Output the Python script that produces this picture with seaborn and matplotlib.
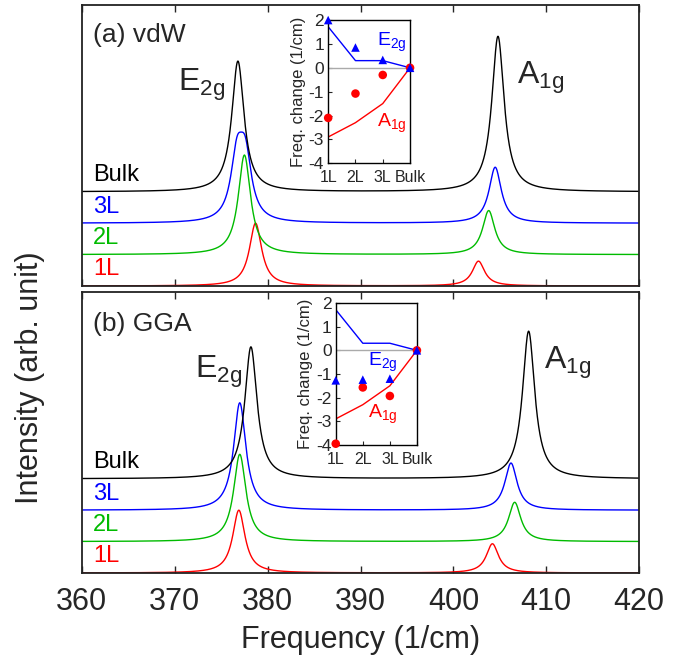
import numpy as np
import matplotlib
matplotlib.use("Agg")
import matplotlib.pyplot as plt
import pandas as pd
import seaborn as sns

# ---------------------------------------------------------------
# Raman peaks (position in 1/cm, height in offset units)
# ---------------------------------------------------------------
layers = ['1L', '2L', '3L', 'Bulk']
colors = ['#ff0000', '#00bb00', '#0000ff', '#000000']
offsets = [0, 1, 2, 3]
gamma = 0.8   # half width of the Lorentzians

# (a) vdW
vdw_e2g_pos = [[378.7], [377.5], [376.7, 377.6], [376.8]]
vdw_e2g_amp = [[2.0], [3.17], [1.91, 1.91], [4.16]]
vdw_a1g_pos = [402.7, 403.8, 404.5, 404.8]
vdw_a1g_amp = [0.79, 1.40, 1.78, 4.95]

# (b) GGA
gga_e2g_pos = [[376.9], [377.0], [377.0], [378.2]]
gga_e2g_amp = [[2.0], [2.78], [3.42], [4.2]]
gga_a1g_pos = [404.2, 406.6, 406.2, 408.1]
gga_a1g_amp = [0.93, 1.25, 1.5, 4.7]

# insets: frequency change vs. number of layers
inset_labels = ['1L', '2L', '3L', 'Bulk']
exp_e2g = [1.72, 0.3, 0.3, 0.0]
exp_a1g = [-2.9, -2.3, -1.5, 0.0]
vdw_e2g_shift = [2.0, 0.85, 0.33, 0.0]
vdw_a1g_shift = [-2.1, -1.08, -0.3, 0.0]
gga_e2g_shift = [-1.27, -1.24, -1.2, 0.0]
gga_a1g_shift = [-3.95, -1.57, -1.93, 0.0]

freq = np.linspace(360, 420, 3001)


def lorentz(x, x0, amp):
    return amp * gamma**2 / ((x - x0)**2 + gamma**2)


sns.set_style("ticks")
plt.rcParams['font.family'] = ['Liberation Sans', 'DejaVu Sans']
plt.rcParams['mathtext.default'] = 'regular'
plt.rcParams['axes.unicode_minus'] = False

fig = plt.figure(figsize=(6.88, 6.69), dpi=100)
ax_a = fig.add_axes([0.119, 0.5725, 0.81, 0.42])
ax_b = fig.add_axes([0.119, 0.1435, 0.81, 0.42])
in_a = fig.add_axes([0.477, 0.756, 0.119, 0.214])
in_b = fig.add_axes([0.488, 0.335, 0.118, 0.212])


def spectra(ax, e2g_pos, e2g_amp, a1g_pos, a1g_amp):
    for i in range(4):
        y = np.full_like(freq, offsets[i], dtype=float)
        for p, a in zip(e2g_pos[i], e2g_amp[i]):
            y += lorentz(freq, p, a)
        y += lorentz(freq, a1g_pos[i], a1g_amp[i])
        sns.lineplot(x=freq, y=y, ax=ax, color=colors[i], lw=1.0,
                     estimator=None, sort=False)
        ax.text(361.2, offsets[i] + 0.18, layers[i], color=colors[i],
                fontsize=17, ha='left', va='bottom')
    ax.set_xlim(360, 420)
    ax.set_ylim(0, 8.95)
    ax.set_xticks(np.arange(360, 421, 10))
    ax.set_yticks([])
    ax.tick_params(axis='x', direction='in', top=True, length=5, width=1,
                   labelsize=22, pad=10)
    for s in ax.spines.values():
        s.set_linewidth(1.3)
        s.set_color('#222222')


spectra(ax_a, vdw_e2g_pos, vdw_e2g_amp, vdw_a1g_pos, vdw_a1g_amp)
spectra(ax_b, gga_e2g_pos, gga_e2g_amp, gga_a1g_pos, gga_a1g_amp)
ax_a.tick_params(labelbottom=False)

ax_a.text(0.02, 0.935, '(a) vdW', transform=ax_a.transAxes, fontsize=19,
          va='top')
ax_b.text(0.02, 0.93, '(b) GGA', transform=ax_b.transAxes, fontsize=19,
          va='top')
ax_a.text(370.3, 6.2, 'E$_{2g}$', fontsize=23, va='baseline')
ax_a.text(406.8, 6.45, 'A$_{1g}$', fontsize=23, va='baseline')
ax_b.text(372.2, 6.2, 'E$_{2g}$', fontsize=23, va='baseline')
ax_b.text(409.8, 6.5, 'A$_{1g}$', fontsize=23, va='baseline')

ax_b.set_xlabel('Frequency (1/cm)', fontsize=22, labelpad=6)
fig.text(0.044, 0.435, 'Intensity (arb. unit)', rotation=90, fontsize=22,
         ha='center', va='center')


def inset(ax, e2g_shift, a1g_shift, e2g_txt, a1g_txt):
    xs = np.arange(4)
    ax.axhline(0, color='#aaaaaa', lw=1)
    sns.lineplot(x=xs, y=exp_e2g, ax=ax, color='#0000ff', lw=1)
    sns.lineplot(x=xs, y=exp_a1g, ax=ax, color='#ff0000', lw=1)
    sns.scatterplot(x=xs, y=a1g_shift, ax=ax, color='#ff0000', marker='o',
                    s=38, edgecolor='none', clip_on=False, zorder=5)
    sns.scatterplot(x=xs, y=e2g_shift, ax=ax, color='#0000ff', marker='^',
                    s=38, edgecolor='none', clip_on=False, zorder=6)
    ax.text(e2g_txt[0], e2g_txt[1], 'E$_{2g}$', color='#0000ff',
            fontsize=14, va='center')
    ax.text(a1g_txt[0], a1g_txt[1], 'A$_{1g}$', color='#ff0000',
            fontsize=14, va='center')
    ax.set_xlim(0, 3)
    ax.set_ylim(-4, 2)
    ax.set_xticks(xs)
    ax.set_xticklabels(inset_labels)
    ax.set_yticks(np.arange(-4, 3, 1))
    ax.tick_params(direction='in', length=3, width=0.8, labelsize=12.5,
                   pad=3)
    ax.tick_params(axis='x', pad=5, labelsize=11.5)
    ax.set_ylabel('Freq. change (1/cm)', fontsize=12, labelpad=2)
    for s in ax.spines.values():
        s.set_linewidth(1)
        s.set_color('black')


inset(in_a, vdw_e2g_shift, vdw_a1g_shift, (1.8, 1.05), (1.8, -2.35))
inset(in_b, gga_e2g_shift, gga_a1g_shift, (1.2, -0.5), (1.2, -2.7))

fig.savefig('out.png', dpi=100)
